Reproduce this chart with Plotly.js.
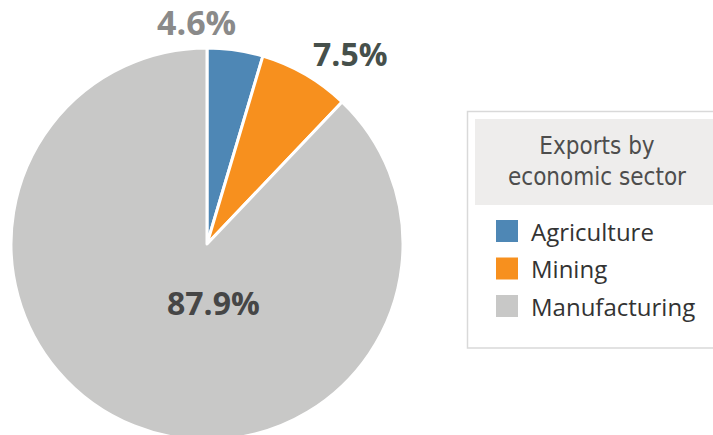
<!DOCTYPE html>
<html><head><meta charset="utf-8">
<script src="https://cdn.plot.ly/plotly-3.0.1.min.js"></script>
<style>html,body{margin:0;padding:0;overflow:hidden;background:#fff}#chart{width:713px;height:445px}</style>
</head><body><div id="chart"></div>
<script>
// Data
const sectors = ['Agriculture', 'Mining', 'Manufacturing'];
const shares = [4.6, 7.5, 87.9];
const sectorColors = ['#4e87b5', '#f7901e', '#c8c8c7'];
const legendTitle = 'Exports by<br>economic sector';

// Layout helpers (pixel -> paper)
const W = 713, H = 445;
const px = x => x / W, py = y => 1 - y / H;
const labelPos = [[196, 22], [350, 54], [213, 302]];
const labelSizes = [34, 32, 32];
const labelColors = ['#8a8a8a', '#46504b', '#464646'];

const trace = {
  type: 'pie',
  labels: sectors,
  values: shares,
  sort: false,
  direction: 'clockwise',
  rotation: 0,
  marker: {colors: sectorColors, line: {color: '#ffffff', width: 3}},
  textinfo: 'none',
  hoverinfo: 'none',
  showlegend: false,
  domain: {x: [px(11), px(403)], y: [py(440), py(48)]}
};

const annotations = shares.map((v, i) => ({
  x: px(labelPos[i][0]), y: py(labelPos[i][1]), xref: 'paper', yref: 'paper',
  text: v.toFixed(1) + '%', showarrow: false, xanchor: 'center', yanchor: 'middle',
  font: {family: 'Open Sans', size: labelSizes[i], weight: 700, color: labelColors[i]}
}));
annotations.push({
  x: px(597), y: py(161), xref: 'paper', yref: 'paper', text: legendTitle,
  showarrow: false, xanchor: 'center', yanchor: 'middle',
  font: {family: 'DejaVu Sans Condensed', size: 24, color: '#4d4d4d'}
});
const shapes = [
  {type: 'rect', xref: 'paper', yref: 'paper', x0: px(467.5), x1: px(730), y0: py(111.5), y1: py(348),
   line: {color: '#d9d9d9', width: 1.5}, fillcolor: 'rgba(0,0,0,0)'},
  {type: 'rect', xref: 'paper', yref: 'paper', x0: px(475), x1: px(730), y0: py(119), y1: py(205),
   line: {width: 0}, fillcolor: '#eeedec'}
];
sectors.forEach((s, i) => {
  const yc = 231 + i * 37.5;
  shapes.push({type: 'rect', xref: 'paper', yref: 'paper', x0: px(496), x1: px(518),
    y0: py(yc - 11), y1: py(yc + 11), line: {width: 0}, fillcolor: sectorColors[i]});
  annotations.push({x: px(529), y: py(yc), xref: 'paper', yref: 'paper', text: s,
    showarrow: false, xanchor: 'left', yanchor: 'middle',
    font: {family: 'Open Sans', size: 24, color: '#333333'}});
});

const layout = {
  width: W, height: H, margin: {l: 0, r: 0, t: 0, b: 0},
  paper_bgcolor: '#ffffff', plot_bgcolor: '#ffffff',
  showlegend: false, annotations, shapes
};
Plotly.newPlot('chart', [trace], layout, {staticPlot: true, displayModeBar: false});
</script></body></html>
